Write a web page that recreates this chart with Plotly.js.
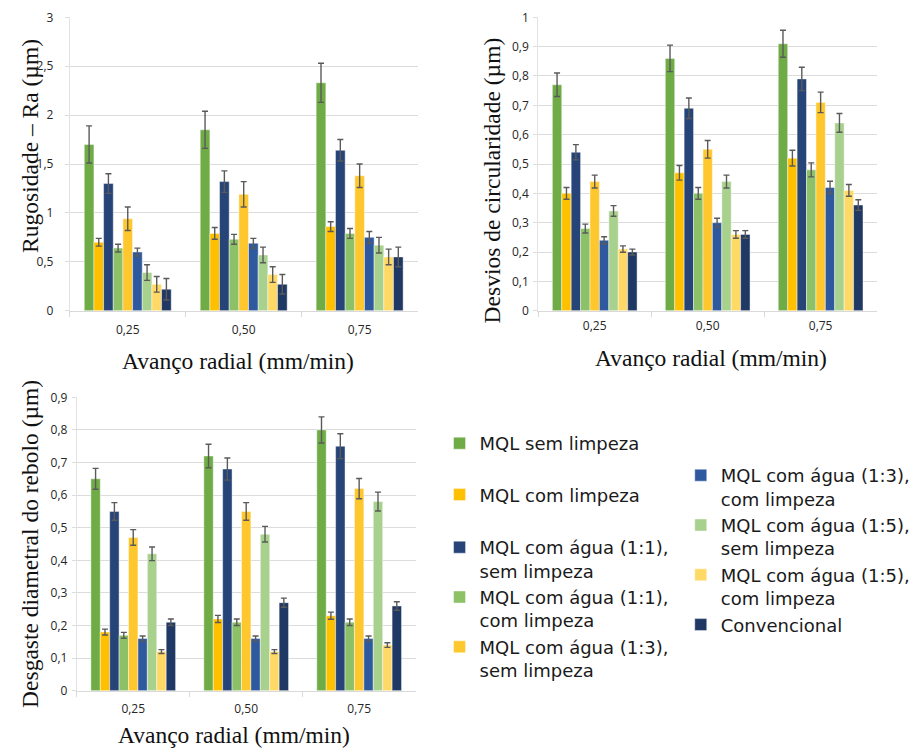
<!DOCTYPE html>
<html>
<head>
<meta charset="utf-8">
<script src="https://cdn.plot.ly/plotly-3.0.1.min.js"></script>
<style>
  html, body { margin: 0; padding: 0; background: #ffffff; }
  #chart { width: 915px; height: 751px; }
</style>
</head>
<body>
<div id="chart"></div>
<script>
// Radial feed rates (mm/min), shown with a decimal comma
const feedRates = ['0,25', '0,50', '0,75'];

// Lubri-cooling conditions, in bar order
const conditionNames = [
  'MQL sem limpeza',
  'MQL com limpeza',
  'MQL com água (1:1),<br>sem limpeza',
  'MQL com água (1:1),<br>com limpeza',
  'MQL com água (1:3),<br>sem limpeza',
  'MQL com água (1:3),<br>com limpeza',
  'MQL com água (1:5),<br>sem limpeza',
  'MQL com água (1:5),<br>com limpeza',
  'Convencional'
];

const conditionColors = [
  '#6fac46', '#ffc000', '#264478', '#8cc168', '#ffc72e',
  '#2f599e', '#a9d18e', '#ffd966', '#1f3864'
];

// Surface roughness Ra (µm): one row per condition, one value per feed rate
const roughness = [
  [1.70, 1.85, 2.33],
  [0.70, 0.79, 0.86],
  [1.30, 1.32, 1.64],
  [0.64, 0.73, 0.79],
  [0.94, 1.19, 1.38],
  [0.60, 0.69, 0.75],
  [0.39, 0.57, 0.67],
  [0.27, 0.37, 0.55],
  [0.22, 0.27, 0.55]
];
const roughnessErr = [
  [0.19, 0.19, 0.20],
  [0.04, 0.06, 0.05],
  [0.10, 0.11, 0.11],
  [0.04, 0.05, 0.05],
  [0.12, 0.13, 0.12],
  [0.04, 0.05, 0.06],
  [0.08, 0.08, 0.08],
  [0.08, 0.08, 0.08],
  [0.11, 0.10, 0.10]
];

// Roundness deviation (µm)
const roundness = [
  [0.77, 0.86, 0.91],
  [0.40, 0.47, 0.52],
  [0.54, 0.69, 0.79],
  [0.28, 0.40, 0.48],
  [0.44, 0.55, 0.71],
  [0.24, 0.30, 0.42],
  [0.34, 0.44, 0.64],
  [0.21, 0.26, 0.41],
  [0.20, 0.26, 0.36]
];
const roundnessErr = [
  [0.040, 0.045, 0.046],
  [0.020, 0.025, 0.027],
  [0.026, 0.035, 0.040],
  [0.015, 0.020, 0.024],
  [0.022, 0.030, 0.035],
  [0.012, 0.015, 0.021],
  [0.018, 0.022, 0.032],
  [0.011, 0.013, 0.020],
  [0.010, 0.013, 0.018]
];

// Diametral wheel wear (µm)
const wheelWear = [
  [0.65, 0.72, 0.80],
  [0.18, 0.22, 0.23],
  [0.55, 0.68, 0.75],
  [0.17, 0.21, 0.21],
  [0.47, 0.55, 0.62],
  [0.16, 0.16, 0.16],
  [0.42, 0.48, 0.58],
  [0.12, 0.12, 0.14],
  [0.21, 0.27, 0.26]
];
const wheelWearErr = [
  [0.032, 0.036, 0.040],
  [0.009, 0.011, 0.011],
  [0.027, 0.034, 0.038],
  [0.009, 0.010, 0.010],
  [0.024, 0.027, 0.031],
  [0.008, 0.008, 0.008],
  [0.021, 0.024, 0.029],
  [0.006, 0.006, 0.007],
  [0.010, 0.014, 0.013]
];

// Which legend block each condition is listed in
const legendBlock = ['legend', 'legend', 'legend2', 'legend2', 'legend2',
                     'legend3', 'legend3', 'legend3', 'legend3'];

const W = 915, H = 751;
const px = v => v / W;
const py = v => 1 - v / H;

const panels = [
  { values: roughness, errors: roughnessErr, xa: 'x',  ya: 'y'  },
  { values: roundness, errors: roundnessErr, xa: 'x2', ya: 'y2' },
  { values: wheelWear, errors: wheelWearErr, xa: 'x3', ya: 'y3' }
];

const traces = [];
panels.forEach((panel, p) => {
  conditionNames.forEach((name, i) => {
    traces.push({
      type: 'bar',
      name: name,
      x: feedRates,
      y: panel.values[i],
      xaxis: panel.xa,
      yaxis: panel.ya,
      legendgroup: 'cond' + i,
      legend: legendBlock[i],
      showlegend: p === 0,
      marker: {
        color: conditionColors[i],
        line: { color: 'rgba(255,255,255,0.55)', width: 0.8 }
      },
      error_y: {
        type: 'data',
        array: panel.errors[i],
        visible: true,
        color: '#5a5a5a',
        thickness: 1.4,
        width: 3
      },
      hovertemplate: '%{x}: %{y}<extra>' + name.replace('<br>', ' ') + '</extra>'
    });
  });
});

const tickFont = { family: 'Open Sans, Liberation Sans, sans-serif', size: 12, color: '#262626' };

function xAxis(domain, anchor, standoff) {
  return {
    domain: domain, anchor: anchor, type: 'category',
    showgrid: false, zeroline: false,
    showline: true, linecolor: '#d9d9d9', linewidth: 1,
    ticks: 'outside', tickson: 'boundaries', ticklen: 5, tickcolor: '#d9d9d9',
    tickfont: tickFont, ticklabelstandoff: standoff, fixedrange: true
  };
}
function yAxis(domain, anchor, range, dtick, standoff) {
  return {
    domain: domain, anchor: anchor, range: range, dtick: dtick,
    showgrid: true, gridcolor: '#dcdcdc', gridwidth: 1,
    zeroline: false, showline: true, linecolor: '#e3e3e3', linewidth: 1,
    ticks: 'outside', ticklen: 4, tickcolor: '#dcdcdc',
    tickfont: tickFont, ticklabelstandoff: standoff, fixedrange: true
  };
}

const titleFont = { family: 'Liberation Serif, Times New Roman, serif', size: 23.5, color: '#111111' };
function axisLabel(text, x, y, angle) {
  return {
    text: text, xref: 'paper', yref: 'paper', x: px(x), y: py(y),
    xanchor: 'center', yanchor: 'middle', showarrow: false,
    textangle: angle, font: titleFont
  };
}

const legendFont = { family: 'DejaVu Sans, sans-serif', size: 18, color: '#1a1a1a' };
function legendBox(x, y, gap) {
  return {
    x: px(x), y: py(y), xanchor: 'left', yanchor: 'top',
    font: legendFont, valign: 'top', tracegroupgap: gap,
    bgcolor: 'rgba(0,0,0,0)', borderwidth: 0
  };
}

const layout = {
  width: W, height: H,
  margin: { l: 0, r: 0, t: 0, b: 0 },
  paper_bgcolor: '#ffffff', plot_bgcolor: '#ffffff',
  separators: ',.',
  barmode: 'group', bargap: 0.25, bargroupgap: 0,
  font: { family: 'Open Sans, sans-serif', color: '#262626' },
  showlegend: true,

  xaxis:  xAxis([px(70),  px(419)], 'y',  8),
  yaxis:  yAxis([py(310.7), py(17.3)], 'x',  [0, 3],   0.5, 9),
  xaxis2: xAxis([px(540), px(880)], 'y2', 4),
  yaxis2: yAxis([py(310.7), py(17.3)], 'x2', [0, 1],   0.1, 2),
  xaxis3: xAxis([px(77),  px(417)], 'y3', 7),
  yaxis3: yAxis([py(690.7), py(397.3)], 'x3', [0, 0.9], 0.1, 2),

  annotations: [
    axisLabel('Rugosidade – Ra (µm)', 30, 146, -90),
    axisLabel('Avanço radial (mm/min)', 239, 361, 0),
    axisLabel('Desvios de circularidade (µm)', 494, 180, -90),
    axisLabel('Avanço radial (mm/min)', 713, 358, 0),
    axisLabel('Desgaste diametral do rebolo (µm)', 30, 544, -90),
    axisLabel('Avanço radial (mm/min)', 235, 735, 0)
  ],

  legend:  legendBox(441, 425, 25),
  legend2: legendBox(441, 529, 0),
  legend3: legendBox(683, 457, 0)
};

Plotly.newPlot('chart', traces, layout, { displayModeBar: false, staticPlot: false });
</script>
</body>
</html>
